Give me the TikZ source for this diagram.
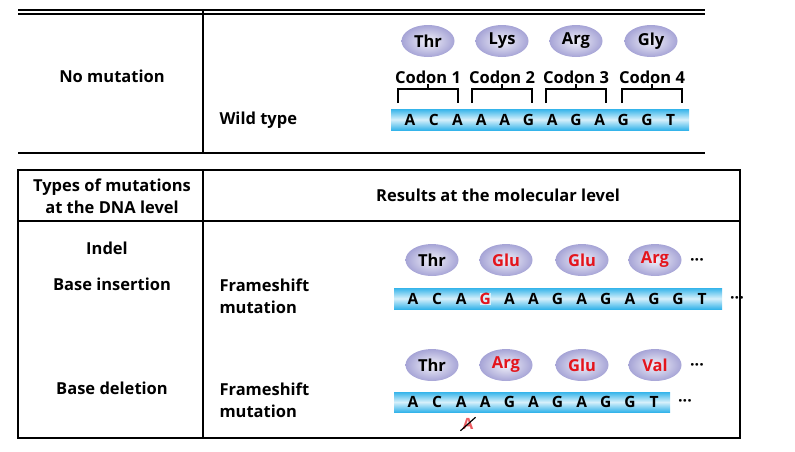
\documentclass[tikz,border=0pt]{standalone}
\usepackage{fontspec}
\setmainfont{Open Sans}
\usetikzlibrary{shapes.geometric}
\definecolor{lav}{HTML}{A6A4D6}
\definecolor{cy}{HTML}{35B4EA}
\definecolor{mred}{HTML}{E4151C}
\tikzset{
 lbl/.style={font=\fontsize{16.5}{22}\selectfont\bfseries},
 aa/.style={ellipse,minimum width=53pt,minimum height=32pt,inner sep=0pt,shade,inner color=white!85!lav,outer color=lav,font=\fontsize{16.5}{17}\selectfont\bfseries},
 cod/.style={font=\fontsize{16.5}{17}\selectfont\bfseries},
 bs/.style={font=\fontsize{15.5}{16}\selectfont\bfseries,inner sep=0pt},
 dots/.style={font=\fontsize{16}{17}\selectfont\bfseries,inner sep=0pt},
 tbl/.style={line width=1.8pt},
 brk/.style={line width=1.3pt},
}
\newcommand{\dnabar}[4]{\shade[top color=cy,bottom color=cy,middle color=white!80!cy] (#1,#2) rectangle (#3,#4);}
\begin{document}
\begin{tikzpicture}[x=1pt,y=-1pt]
\useasboundingbox (0,0) rectangle (795,451);
% top table
\draw[tbl] (18,10) -- (705,10);
\draw[tbl] (18,14) -- (705,14);
\draw[tbl] (18,153) -- (705,153);
\draw[tbl] (203,10) -- (203,153);
\node[lbl] (nm) at (112,76) {No mutation};
\node[lbl,anchor=west] (wt) at (216,120) {Wild type};
\foreach \n/\x in {Thr/428,Lys/502,Arg/576,Gly/651}{\node[aa] (t\n) at (\x,41) {\n};}
\foreach \i/\x in {1/428,2/502,3/576,4/652}{
 \node[cod] (c\i) at (\x,77) {Codon \i};
 \draw[brk] (\x-30,103) -- (\x-30,89) -- (\x+30,89) -- (\x+30,103);
 \draw[brk] (\x,89) -- (\x,84);}
\dnabar{391}{109}{689}{130}
\foreach \b [count=\i from 0] in {A,C,A,A,A,G,A,G,A,G,G,T}{\node[bs] (w\i) at (410+23.7*\i,120) {\b};}
% bottom table
\draw[tbl] (18,170) rectangle (740,438);
\draw[tbl] (18,221) -- (740,221);
\draw[tbl] (203,170) -- (203,438);
\node[lbl,align=center] (h1) at (112,196) {Types of mutations\\at the DNA level};
\node[lbl] (h2) at (498,195) {Results at the molecular level};
\node[lbl] (ind) at (107,248) {Indel};
\node[lbl] (bi) at (112,284) {Base insertion};
\node[lbl,anchor=west,align=left] (f1) at (216,296) {Frameshift\\mutation};
\node[lbl] (bd) at (112,388) {Base deletion};
\node[lbl,anchor=west,align=left] (f2) at (216,400) {Frameshift\\mutation};
% row 1
\node[aa] (a1) at (432,260) {Thr};
\node[aa,text=mred] (a2) at (506,260) {Glu};
\node[aa,text=mred] (a3) at (582,260) {Glu};
\node[aa,text=mred] (a4) at (655,260) {Arg};
\node[dots] (d1) at (697,262) {···};
\dnabar{394}{288}{722}{309}
\foreach \b [count=\i from 0] in {A,C,A,G,A,A,G,A,G,A,G,G,T}{\node[bs] (i\i) at (413+24.1*\i,299) {\b};}
\node[bs,text=mred,fill=white!80!cy] at (i3) {G};
\node[dots] (d2) at (737,300) {···};
% row 2
\node[aa] (b1) at (432,365) {Thr};
\node[aa,text=mred] (b2) at (506,365) {Arg};
\node[aa,text=mred] (b3) at (582,365) {Glu};
\node[aa,text=mred] (b4) at (655,365) {Val};
\node[dots] (d3) at (697,367) {···};
\dnabar{394}{392}{670}{412}
\foreach \b [count=\i from 0] in {A,C,A,A,G,A,G,A,G,G,T}{\node[bs] (e\i) at (413+24.1*\i,402) {\b};}
\node[dots] (d4) at (685,403) {···};
\node[bs,text=mred!70] (x) at (468,424) {A};
\draw[line width=1.2pt] ([shift={(-2,1)}]x.south west) -- ([shift={(2,-1)}]x.north east);
\end{tikzpicture}
\end{document}
